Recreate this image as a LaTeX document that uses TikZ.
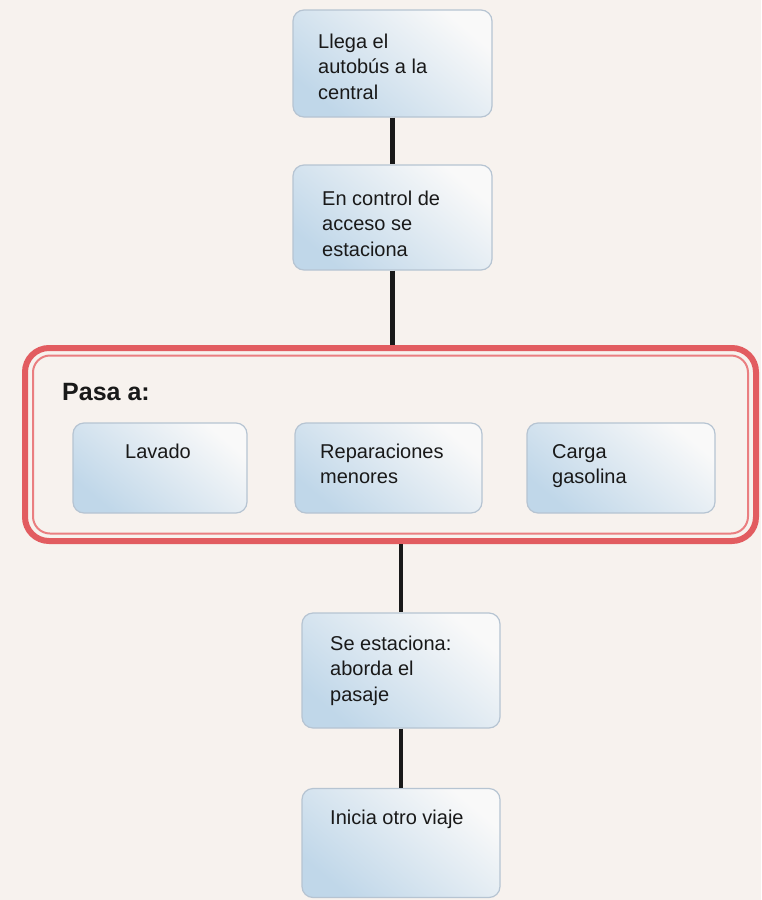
\documentclass[tikz,border=0pt]{standalone}
\usepackage{fontspec}
\setmainfont{Liberation Sans}
\definecolor{bg}{RGB}{247,242,238}
\definecolor{boxblue}{RGB}{192,215,233}
\definecolor{boxmid}{RGB}{238,241,244}
\definecolor{boxtop}{RGB}{249,249,249}
\definecolor{boxline}{RGB}{182,196,210}
\definecolor{redc}{RGB}{226,92,96}
\definecolor{redl}{RGB}{234,126,128}
\definecolor{ink}{RGB}{25,25,25}
\begin{document}
\begin{tikzpicture}[x=1pt,y=-1pt,
  box/.style={draw=boxline, line width=1.2pt, rounded corners=11pt,
    bottom color=boxblue, middle color=boxmid, top color=boxtop,
    shading angle=-40, inner sep=0pt},
  txt/.style={inner sep=0pt, align=left, text=ink,
    font=\fontsize{20}{25.5}\selectfont},
  conn/.style={draw=ink, line width=4.5pt}]
\fill[bg] (0,0) rectangle (761,900);
\useasboundingbox (0,0) rectangle (761,900);
% main boxes
\node[box, minimum width=199pt, minimum height=107pt] (b1) at (392.5,63.5) {};
\node[box, minimum width=199pt, minimum height=105pt] (b2) at (392.5,217.5) {};
\node[box, minimum width=198pt, minimum height=115pt] (b4) at (401,670.5) {};
\node[box, minimum width=198pt, minimum height=109pt] (b5) at (401,843) {};
% frame
\node[draw=redc, line width=6pt, rounded corners=24pt, minimum width=731pt,
  minimum height=193pt, inner sep=0pt] (frame) at (390.5,444.5) {};
\node[draw=redl, line width=2pt, rounded corners=17pt, minimum width=715pt,
  minimum height=178pt, inner sep=0pt] (frameinner) at (390.5,444.5) {};
% inner boxes
\node[box, minimum width=174pt, minimum height=90pt] (lav) at (160,468) {};
\node[box, minimum width=187pt, minimum height=90pt] (rep) at (388.5,468) {};
\node[box, minimum width=188pt, minimum height=90pt] (car) at (621,468) {};
% connectors
\draw[conn] (b1.south) -- (b2.north);
\draw[conn] (b2.south) -- (b2.south |- frame.north);
\draw[conn] (frame.south -| b4.north) -- (b4.north);
\draw[conn] (b4.south) -- (b5.north);
% texts
\node[txt, anchor=north west] (t1) at (318,30) {\strut Llega el\\autobús a la\\central};
\node[txt, anchor=north west] (t2) at (322,187) {\strut En control de\\acceso se\\estaciona};
\node[txt, anchor=north west] (t4) at (330,632) {\strut Se estaciona:\\aborda el\\pasaje};
\node[txt, anchor=north west] (t5) at (330,806) {\strut Inicia otro viaje};
\node[inner sep=0pt, anchor=base west, text=ink, font=\bfseries\fontsize{25}{30}\selectfont] (pasa) at (62,400) {Pasa a:};
\node[txt, anchor=base] (tlav) at (158,458) {Lavado};
\node[txt, anchor=north west] (trep) at (320,440) {\strut Reparaciones\\menores};
\node[txt, anchor=north west] (tcar) at (552,440) {\strut Carga\\gasolina};
\end{tikzpicture}
\end{document}
